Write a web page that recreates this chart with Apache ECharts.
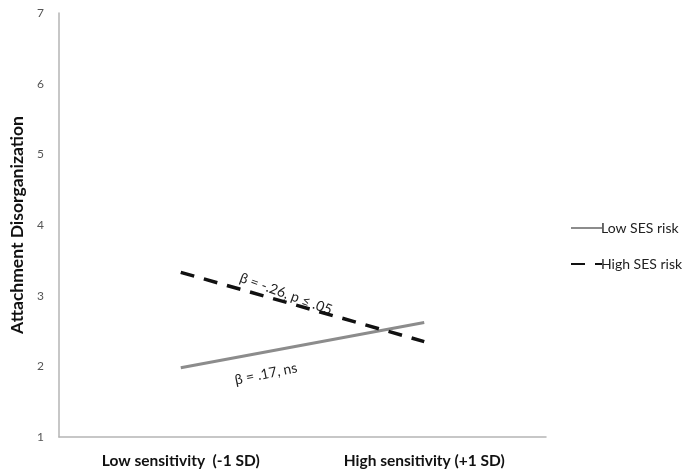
<!DOCTYPE html>
<html><head><meta charset="utf-8">
<script src="https://cdn.jsdelivr.net/npm/echarts@6/dist/echarts.min.js"></script>
<style>html,body{margin:0;padding:0;background:#fff}#c{width:684px;height:476px}</style>
</head><body><div id="c"></div>
<script>
const categories = ['Low sensitivity  (-1 SD)', 'High sensitivity (+1 SD)'];
const lowSES = [1.98, 2.62];
const highSES = [3.33, 2.35];
const seriesNames = ['Low SES risk', 'High SES risk'];
const annotHigh = 'β = -.26, p ≤ .05';
const annotLow = 'β = .17, ns';
const yTicks = [1, 2, 3, 4, 5, 6, 7];

const FONT = 'Lato, "Open Sans", sans-serif';
const chart = echarts.init(document.getElementById('c'));
chart.setOption({
  animation: false,
  backgroundColor: '#fff',
  grid: { left: 58, top: 13, right: 138, bottom: 39 },
  xAxis: {
    type: 'category', data: categories, boundaryGap: true,
    axisLine: { lineStyle: { color: '#b5b5b5', width: 1.5 } },
    axisTick: { show: false },
    axisLabel: { color: '#111', fontWeight: 'bold', fontSize: 15.5, fontFamily: FONT, margin: 16 }
  },
  yAxis: {
    type: 'value', min: 1, max: 7, interval: 1,
    name: 'Attachment Disorganization', nameLocation: 'middle', nameGap: 33,
    nameTextStyle: { color: '#111', fontWeight: 'bold', fontSize: 17.5, fontFamily: FONT },
    axisLine: { show: true, lineStyle: { color: '#b5b5b5', width: 1.5 } },
    axisTick: { show: false },
    splitLine: { show: false },
    axisLabel: { color: '#555', fontSize: 12, fontFamily: FONT, margin: 15,
      formatter: v => yTicks.includes(v) ? String(v) : '' }
  },
  legend: {
    orient: 'vertical', left: 565, top: 216, itemGap: 22,
    itemWidth: 31, itemHeight: 12,
    itemStyle: { opacity: 0 },
    textStyle: { color: '#222', fontSize: 14, fontFamily: FONT, padding: [0, 0, 0, -6] },
    data: seriesNames
  },
  series: [
    { name: seriesNames[0], type: 'line', data: lowSES, symbol: 'none',
      lineStyle: { color: '#8c8c8c', width: 3 }, itemStyle: { color: '#8c8c8c' } },
    { name: seriesNames[1], type: 'line', data: highSES, symbol: 'none',
      lineStyle: { color: '#111', width: 3.5, type: [14, 10] }, itemStyle: { color: '#111' } }
  ]
});

function lerp(a, b, t) { return [a[0] + (b[0] - a[0]) * t, a[1] + (b[1] - a[1]) * t]; }
const hA = chart.convertToPixel({ seriesIndex: 1 }, [0, highSES[0]]);
const hB = chart.convertToPixel({ seriesIndex: 1 }, [1, highSES[1]]);
const lA = chart.convertToPixel({ seriesIndex: 0 }, [0, lowSES[0]]);
const lB = chart.convertToPixel({ seriesIndex: 0 }, [1, lowSES[1]]);
const hp = lerp(hA, hB, 0.44);
const lp = lerp(lA, lB, 0.35);
chart.setOption({
  graphic: [
    { type: 'text', x: hp[0] - 2, y: hp[1] - 9, rotation: -0.35,
      style: { text: annotHigh, fill: '#222', fontSize: 14, fontFamily: FONT, align: 'center', verticalAlign: 'middle' } },
    { type: 'text', x: lp[0], y: lp[1] + 22, rotation: 0.2,
      style: { text: annotLow, fill: '#222', fontSize: 14, fontFamily: FONT, align: 'center', verticalAlign: 'middle' } }
  ]
});
</script></body></html>
